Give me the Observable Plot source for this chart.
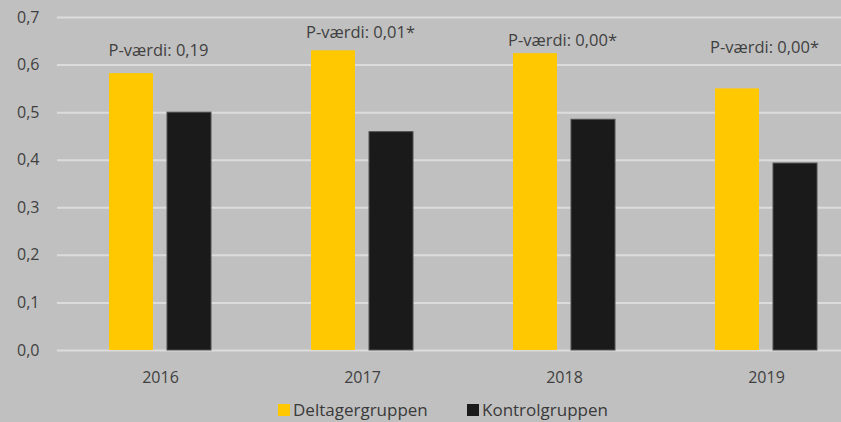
<!DOCTYPE html>
<html>
<head>
<meta charset="utf-8">
<script src="https://cdn.jsdelivr.net/npm/d3@7"></script>
<script src="https://cdn.jsdelivr.net/npm/@observablehq/plot@0.6"></script>
<style>
  html, body { margin: 0; padding: 0; background: #c0c0c0; }
  body { width: 841px; height: 422px; overflow: hidden; font-family: "Open Sans", sans-serif; }
  #legend { position: relative; height: 27px; font-size: 17px; color: #3a3a3a; }
  .item { position: absolute; top: 3px; display: flex; align-items: center; }
  .sw { width: 12px; height: 12px; margin-right: 3px; }
</style>
</head>
<body>
<div id="chart"></div>
<div id="legend"></div>
<script>
const years = ["2016", "2017", "2018", "2019"];
const deltager = [0.582, 0.630, 0.624, 0.550];
const kontrol = [0.500, 0.459, 0.485, 0.393];
const pLabels = ["P-værdi: 0,19", "P-værdi: 0,01*", "P-værdi: 0,00*", "P-værdi: 0,00*"];
const pLabelY = [0.630, 0.668, 0.651, 0.637];
const seriesNames = ["Deltagergruppen", "Kontrolgruppen"];
const yTicks = [0, 0.1, 0.2, 0.3, 0.4, 0.5, 0.6, 0.7];

const colors = ["#ffc800", "#1a1a1a"];
const dData = years.map((y, i) => ({year: y, value: deltager[i]}));
const kData = years.map((y, i) => ({year: y, value: kontrol[i]}));
const lData = years.map((y, i) => ({year: y, label: pLabels[i], y: pLabelY[i]}));

const chart = Plot.plot({
  width: 841,
  height: 395,
  marginLeft: 57,
  marginRight: 0,
  marginTop: 17,
  marginBottom: 45,
  style: {background: "#c0c0c0", fontFamily: "Open Sans, sans-serif", fontSize: "16px", color: "#404040"},
  x: {domain: years, range: [57, 868], padding: 0, label: null},
  y: {domain: [0, 0.7], range: [350, 17], label: null},
  marks: [
    Plot.ruleY(yTicks, {stroke: "#dcdcdc", strokeWidth: 2}),
    Plot.barY(dData, {x: "year", y: "value", fill: colors[0], insetLeft: 50, insetRight: 108}),
    Plot.barY(kData, {x: "year", y: "value", fill: colors[1], stroke: "#505050", strokeWidth: 1, insetLeft: 108, insetRight: 50}),
    Plot.text(lData, {x: "year", y: "y", text: "label", fill: "#404040", fontSize: 16.5, dx: -2}),
    Plot.axisY({ticks: yTicks, tickSize: 0, tickPadding: 18, tickFormat: d => d3.format(".1f")(d).replace(".", ","), fontSize: 16, label: null}),
    Plot.axisX({tickSize: 0, tickPadding: 21, fontSize: 16, label: null})
  ]
});
document.getElementById("chart").appendChild(chart);

const legend = document.getElementById("legend");
const lefts = [278, 467];
seriesNames.forEach((name, i) => {
  const it = document.createElement("div");
  it.className = "item";
  it.style.left = lefts[i] + "px";
  const sw = document.createElement("span");
  sw.className = "sw";
  sw.style.background = colors[i];
  const t = document.createElement("span");
  t.textContent = name;
  it.appendChild(sw);
  it.appendChild(t);
  legend.appendChild(it);
});
</script>
</body>
</html>
